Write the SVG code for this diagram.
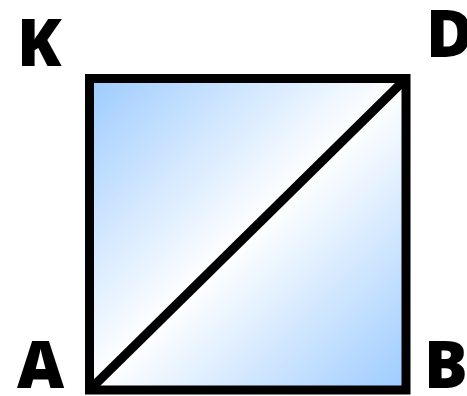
<svg xmlns="http://www.w3.org/2000/svg" width="467" height="396" viewBox="0 0 467 396">
  <defs>
    <linearGradient id="g" x1="0" y1="0" x2="1" y2="1">
      <stop offset="0" stop-color="#9ccbff"/>
      <stop offset="0.5" stop-color="#ffffff"/>
      <stop offset="1" stop-color="#9ccbff"/>
    </linearGradient>
    <style>
      .lbl { font-family: "Noto Sans", "Open Sans", sans-serif; font-weight: 900; font-size: 65px; fill: #000; }
      .edge { stroke: #000; stroke-width: 9; fill: none; }
    </style>
  </defs>
  <g id="square">
    <rect x="89.5" y="78.5" width="316.5" height="311.5" fill="url(#g)" stroke="#000" stroke-width="9"/>
  </g>
  <g id="connectors">
    <line class="edge" x1="89.5" y1="390" x2="406" y2="78.5"/>
  </g>
  <g id="K"><text class="lbl" x="17" y="66">K</text></g>
  <g id="D"><text class="lbl" x="426" y="57">D</text></g>
  <g id="A"><text class="lbl" x="17" y="388">A</text></g>
  <g id="B"><text class="lbl" x="424" y="388">B</text></g>
</svg>
